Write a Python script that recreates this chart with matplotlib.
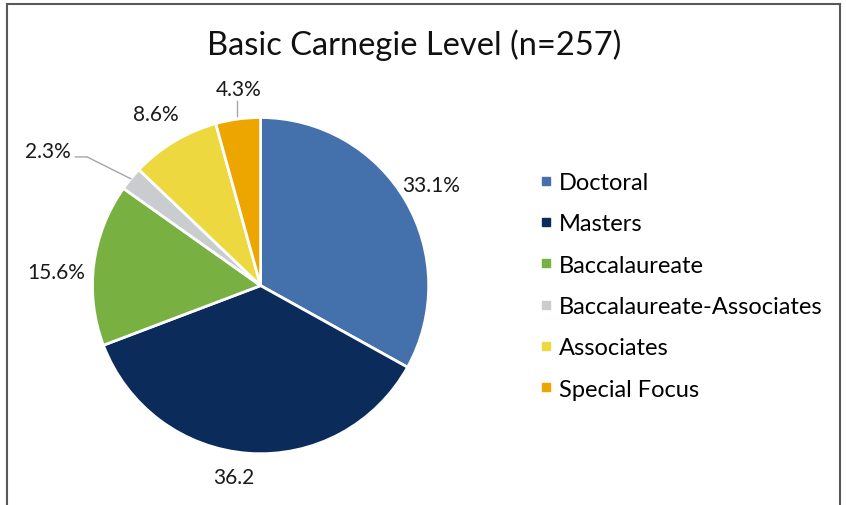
import numpy as np
import matplotlib.pyplot as plt
from matplotlib.lines import Line2D

categories = ["Doctoral", "Masters", "Baccalaureate", "Baccalaureate-Associates",
              "Associates", "Special Focus"]
values = [33.1, 36.2, 15.6, 2.3, 8.6, 4.3]
labels = ["33.1%", "36.2", "15.6%", "2.3%", "8.6%", "4.3%"]
colors = ["#4470AB", "#0B2C5A", "#78B042", "#C9CDCF", "#EDD83F", "#EDA500"]

plt.rcParams['font.family'] = ['Lato', 'DejaVu Sans']

fig = plt.figure(figsize=(8.46, 5.06), dpi=100)
ax = fig.add_axes([0.0, 0.0, 0.62, 1.0])

wedges, _ = ax.pie(values, colors=colors, startangle=90, counterclock=False,
                   radius=1.0, center=(0, 0),
                   wedgeprops=dict(edgecolor="white", linewidth=2))
ax.set_xlim(-1.55, 1.57)
ax.set_ylim(-1.30, 1.70)
ax.set_aspect("equal")
ax.axis("off")

txt = dict(fontsize=15, color="#1a1a1a")

# label placement: distance factor per slice (+ small nudges), leaders for small ones
dist = [1.18, 1.14, 1.25, None, 1.155, None]
dx = [0, -0.08, 0.027, 0, -0.03, 0]
dy = [0, 0, -0.076, 0, 0.03, 0]
for i, w in enumerate(wedges):
    ang = np.deg2rad((w.theta1 + w.theta2) / 2)
    x, y = np.cos(ang), np.sin(ang)
    if dist[i] is not None:
        ax.text(dist[i] * x + dx[i], dist[i] * y + dy[i], labels[i],
                ha="center", va="center", **txt)

# 2.3% with bent leader
w = wedges[3]
ang = np.deg2rad((w.theta1 + w.theta2) / 2)
ex, ey = np.cos(ang), np.sin(ang)
ax.plot([ex, ex - 0.26, ex - 0.33], [ey, ey + 0.13, ey + 0.13],
        color="#A6A6A6", lw=1)
ax.text(ex - 0.355, ey + 0.163, labels[3], ha="right", va="center", **txt)

# 4.3% with vertical leader
ax.plot([-0.143, -0.143], [1.01, 1.10], color="#A6A6A6", lw=1)
ax.text(-0.13, 1.17, labels[5], ha="center", va="center", **txt)

handles = [Line2D([], [], marker="s", linestyle="none", markersize=6,
                  markerfacecolor=c, markeredgecolor=c) for c in colors]
fig.legend(handles, categories, loc="center left", bbox_to_anchor=(0.634, 0.433),
           frameon=False, fontsize=17, handletextpad=0.15, labelspacing=0.86,
           handlelength=0.8, borderaxespad=0, borderpad=0)

fig.text(0.49, 0.911, "Basic Carnegie Level (n=257)", ha="center", va="center",
         fontsize=23.5, color="#111111")

# outer frame (open at bottom)
for xs, ys in [([0.008, 0.008], [0.0, 0.99]), ([0.008, 0.993], [0.99, 0.99]),
               ([0.993, 0.993], [0.99, 0.0])]:
    fig.add_artist(Line2D(xs, ys, color="#595959", lw=1.5, transform=fig.transFigure))

fig.savefig("out.png", dpi=100)
